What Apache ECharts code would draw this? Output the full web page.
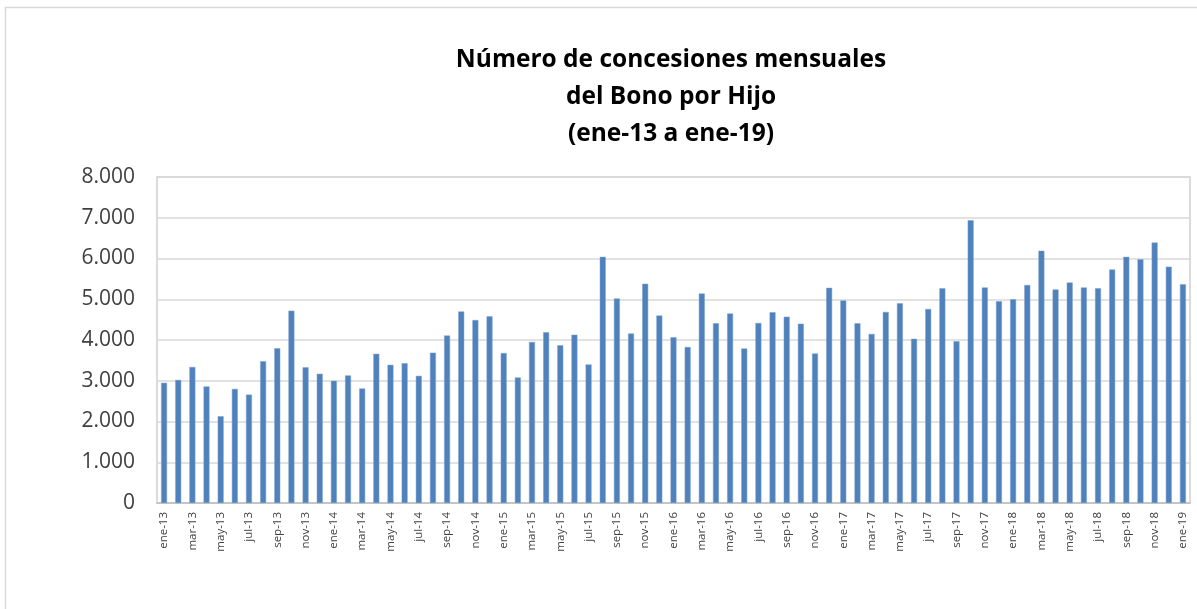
<!DOCTYPE html>
<html>
<head>
<meta charset="utf-8">
<script src="https://cdn.jsdelivr.net/npm/echarts@6/dist/echarts.min.js"></script>
<style>
  html, body { margin: 0; padding: 0; background: #fff; }
  #main { width: 1197px; height: 609px; }
</style>
</head>
<body>
<div id="main"></div>
<script>
var monthNames = ['ene', 'feb', 'mar', 'abr', 'may', 'jun', 'jul', 'ago', 'sep', 'oct', 'nov', 'dic'];
var years = ['13', '14', '15', '16', '17', '18', '19'];

// ene-13 ... ene-19
var categories = [];
years.forEach(function (y) {
  monthNames.forEach(function (m) {
    if (categories.length < 73) categories.push(m + '-' + y);
  });
});

// concesiones mensuales
var concesiones = [
  2950, 3020, 3340, 2860, 2130, 2800, 2660, 3480, 3800, 4720, 3330, 3170,
  3000, 3130, 2810, 3660, 3390, 3430, 3120, 3690, 4110, 4700, 4490, 4580,
  3680, 3080, 3950, 4190, 3870, 4130, 3400, 6040, 5020, 4160, 5380, 4600,
  4070, 3830, 5140, 4410, 4650, 3790, 4420, 4680, 4570, 4400, 3670, 5280,
  4970, 4410, 4150, 4690, 4900, 4030, 4760, 5270, 3970, 6940, 5290, 4950,
  5000, 5350, 6190, 5240, 5410, 5290, 5270, 5730, 6040, 5980, 6390, 5800,
  5370
];

var titleLines = [
  'Número de concesiones mensuales',
  'del Bono por Hijo',
  '(ene-13 a ene-19)'
];

var chart = echarts.init(document.getElementById('main'), null, { renderer: 'canvas' });

var option = {
  backgroundColor: '#ffffff',
  animation: false,
  title: {
    text: titleLines.join('\n'),
    left: 666,
    top: 37,
    textAlign: 'center',
    textStyle: {
      fontFamily: 'Open Sans',
      fontWeight: 'bold',
      fontSize: 24.5,
      lineHeight: 37,
      color: '#000000'
    }
  },
  graphic: [
    {
      type: 'rect',
      silent: true,
      shape: { x: 5.5, y: 7.5, width: 1300, height: 700 },
      style: { fill: 'none', stroke: '#d9d9d9', lineWidth: 1.5 }
    }
  ],
  grid: {
    left: 157,
    top: 177,
    right: 7,
    bottom: 106,
    show: true,
    borderColor: '#d0d0d0',
    borderWidth: 1.5
  },
  xAxis: {
    type: 'category',
    data: categories,
    boundaryGap: true,
    axisLine: { show: true, lineStyle: { color: '#bfbfbf', width: 1.5 } },
    axisTick: { show: false },
    axisLabel: {
      interval: 1,
      rotate: 90,
      fontFamily: 'Open Sans',
      fontSize: 11.5,
      color: '#404040',
      margin: 9
    }
  },
  yAxis: {
    type: 'value',
    min: 0,
    max: 8000,
    interval: 1000,
    axisLine: { show: false },
    axisTick: { show: false },
    splitLine: { lineStyle: { color: '#d9d9d9', width: 1.5 } },
    axisLabel: {
      fontFamily: 'Open Sans',
      fontSize: 21,
      color: '#404040',
      margin: 22,
      formatter: function (v) {
        return String(v).replace(/\B(?=(\d{3})+(?!\d))/g, '.');
      }
    }
  },
  series: [
    {
      type: 'bar',
      data: concesiones,
      barWidth: '42%',
      itemStyle: {
        color: '#4f81bd',
        borderColor: '#7da0cc',
        borderWidth: 0.5
      }
    }
  ]
};

chart.setOption(option);
</script>
</body>
</html>
